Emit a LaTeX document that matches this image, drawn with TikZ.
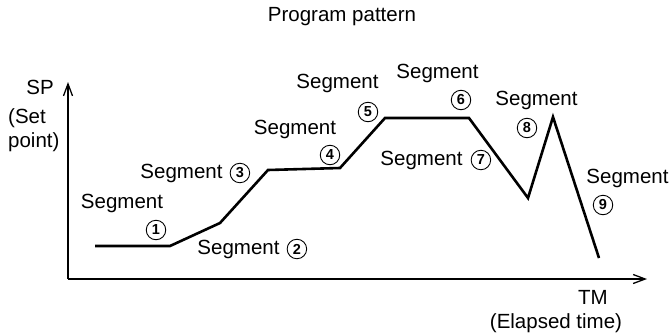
\documentclass[tikz,border=0pt]{standalone}
\usepackage{fontspec}
\setmainfont{Liberation Sans}
\usetikzlibrary{arrows.meta,shapes,positioning}

\begin{document}
\begin{tikzpicture}[x=1pt,y=-1pt,
    >={Straight Barb[length=12pt,width=9pt]},
    lbl/.style = {inner sep=0pt, font=\fontsize{20.5}{24}\selectfont},
    num/.style = {draw, circle, line width=0.9pt, inner sep=0pt,
                  minimum size=19.5pt, font=\fontsize{14.5}{14.5}\selectfont\bfseries}
  ]
  \useasboundingbox (0,0) rectangle (672,335);

  % axes
  \coordinate (O) at (68,279);
  \coordinate (ytop) at (68,82);
  \coordinate (xend) at (647,279);
  \draw[->, line width=1.3pt] (O) -- (ytop);
  \draw[->, line width=1.3pt] (O) -- (xend);

  % program pattern
  \coordinate (p0) at (95,246);
  \coordinate (p1) at (170,246);
  \coordinate (p2) at (220,223);
  \coordinate (p3) at (268,170);
  \coordinate (p4) at (340,168);
  \coordinate (p5) at (385,118);
  \coordinate (p6) at (469,118);
  \coordinate (p7) at (528,198);
  \coordinate (p8) at (553,117);
  \coordinate (p9) at (599,258);
  \draw[line width=2.6pt, line join=miter] (p0) -- (p1) -- (p2) -- (p3) -- (p4)
      -- (p5) -- (p6) -- (p7) -- (p8) -- (p9);

  \node[lbl] (title) at (342,17) {Program pattern};
  \node[lbl] (sp) at (40,87) {SP};
  \node[lbl, align=left, anchor=west] (setpt) at (8,130) {(Set\\point)};
  \node[lbl] (tm) at (593,297) {TM};
  \node[lbl] (elapsed) at (556,323) {(Elapsed time)};

  % segment labels
  \node[lbl] (seg1) at (122,203) {Segment};
  \node[num] (n1) at (156,230) {1};
  \node[lbl] (seg2) at (238.5,249) {Segment};
  \node[num, right=7pt of seg2] (n2) {2};
  \node[lbl] (seg3) at (181.5,173) {Segment};
  \node[num, right=7pt of seg3] (n3) {3};
  \node[lbl] (seg4) at (295,129) {Segment};
  \node[num] (n4) at (330,155) {4};
  \node[lbl] (seg5) at (337.5,83) {Segment};
  \node[num] (n5) at (368,112) {5};
  \node[lbl] (seg6) at (437.5,73) {Segment};
  \node[num] (n6) at (461,100) {6};
  \node[lbl] (seg7) at (421.5,160) {Segment};
  \node[num, right=8pt of seg7] (n7) {7};
  \node[lbl] (seg8) at (536.5,100) {Segment};
  \node[num] (n8) at (527,128) {8};
  \node[lbl] (seg9) at (627.5,178) {Segment};
  \node[num] (n9) at (603,205) {9};

\end{tikzpicture}
\end{document}
